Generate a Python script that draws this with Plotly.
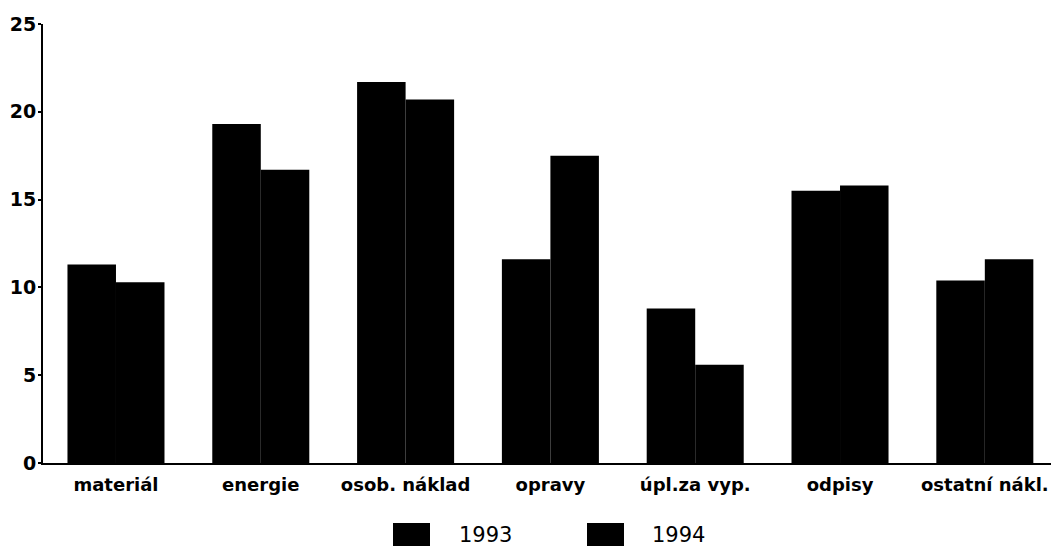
import plotly.graph_objects as go

categories = ["materiál", "energie", "osob. náklad", "opravy", "úpl.za vyp.", "odpisy", "ostatní nákl."]
series_names = ["1993", "1994"]
values_1993 = [11.3, 19.3, 21.7, 11.6, 8.8, 15.5, 10.4]
values_1994 = [10.3, 16.7, 20.7, 17.5, 5.6, 15.8, 11.6]
y_ticks = [0, 5, 10, 15, 20, 25]

W, H = 1051, 549
L, R, T, B = 43, 0, 24, 86
pw, ph = W - L - R, H - T - B

def px_x(x):
    return (x - L) / pw

def px_y(y):
    return (H - B - y) / ph

fig = go.Figure()
for name, vals in zip(series_names, [values_1993, values_1994]):
    fig.add_trace(go.Bar(x=list(range(len(categories))), y=vals, name=name,
                         marker=dict(color="black", line=dict(width=0)),
                         showlegend=False))

# custom legend (large squares like the reference)
legend_items = [(393, 430, 457), (587, 624, 650)]
for name, (x0, x1, tx) in zip(series_names, legend_items):
    fig.add_shape(type="rect", xref="paper", yref="paper",
                  x0=px_x(x0), x1=px_x(x1), y0=px_y(523), y1=px_y(546),
                  fillcolor="black", line=dict(width=0))
    fig.add_annotation(xref="paper", yref="paper", x=px_x(tx), y=px_y(535),
                       text=name, showarrow=False, xanchor="left", yanchor="middle",
                       font=dict(family="DejaVu Sans", size=21, color="black"))

fig.update_layout(
    width=W, height=H,
    margin=dict(l=L, r=R, t=T, b=B),
    paper_bgcolor="white", plot_bgcolor="white",
    barmode="group", bargap=0.33, bargroupgap=0.0,
    font=dict(family="DejaVu Sans", color="black"),
)
fig.update_xaxes(
    tickmode="array", tickvals=list(range(len(categories))), ticktext=categories,
    range=[-0.504, 6.457], showline=True, linecolor="black", linewidth=2,
    showgrid=False, zeroline=False, ticks="", ticklabelstandoff=4,
    tickfont=dict(family="DejaVu Sans", size=18, weight="bold", color="black"),
)
fig.update_yaxes(
    range=[0, 25], tickvals=y_ticks, showline=True, linecolor="black", linewidth=2,
    showgrid=False, zeroline=False, ticks="outside", ticklen=3, tickwidth=2, tickcolor="black",
    ticklabelstandoff=-2,
    tickfont=dict(family="DejaVu Sans", size=19, weight="bold", color="black"),
)
fig.write_html("out.html", config={"displayModeBar": False})

with open("out.html", "r", encoding="utf-8") as f:
    html = f.read()
html = html.replace("<head>", "<head><style>html,body{margin:0;padding:0;overflow:hidden;}</style>", 1)
with open("out.html", "w", encoding="utf-8") as f:
    f.write(html)
